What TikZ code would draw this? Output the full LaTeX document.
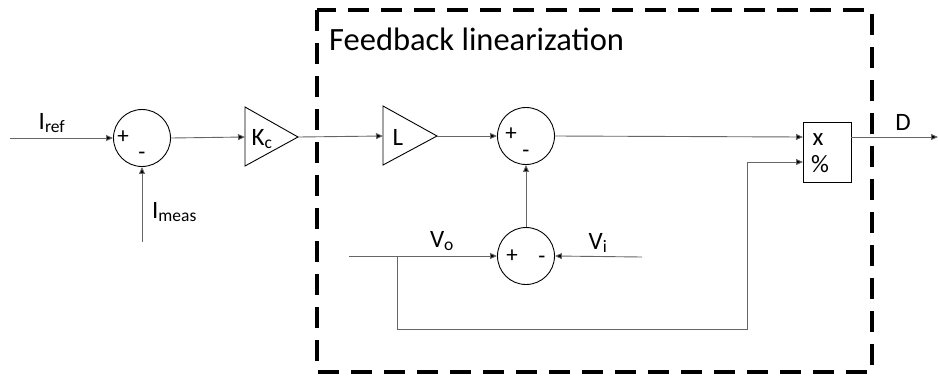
\documentclass[tikz,border=0pt]{standalone}
\usepackage{fontspec}
\setmainfont{Carlito}
\usetikzlibrary{arrows.meta}
\begin{document}
\begin{tikzpicture}[x=1pt,y=-1pt,
  wire/.style={draw=black!60, line width=0.9pt},
  arr/.style={wire, -{Triangle[length=7pt,width=6pt,fill=black]}},
  blk/.style={draw=black, line width=0.9pt},
  sumnode/.style={circle, draw=black, line width=0.9pt, minimum size=57pt, inner sep=0pt},
  lbl/.style={font=\fontsize{25}{28}\selectfont, inner sep=0pt},
  sgn/.style={font=\fontsize{23}{26}\selectfont, inner sep=0pt},
  fbbox/.style={draw=black, line width=3.5pt, dash pattern=on 21pt off 12pt}]
\useasboundingbox (0,0) rectangle (938,376);

% feedback linearization box
\draw[fbbox] (317,10) rectangle (872,372);
\node[font=\fontsize{32.5}{36}\selectfont, anchor=west, inner sep=0pt] (title) at (329,39) {Feedback linearization};

% first summing junction
\node[sumnode] (s1) at (142,138) {};
\node[sgn] (s1p) at (123,137) {+};
\node[sgn] (s1m) at (142,156) {-};
\coordinate (iref) at (10,138);
\draw[arr] (iref) -- (s1.west);
\node[lbl] (ireflbl) at (52,123) {I\textsubscript{ref}};
\coordinate (imeas) at (142,242);
\draw[arr] (imeas) -- (s1.south);
\node[lbl, anchor=west] (imeaslbl) at (152,212) {I\textsubscript{meas}};

% Kc gain
\coordinate (kcin) at (245,137);
\coordinate (kcout) at (298,137);
\draw[blk] (245,107) -- (kcout) -- (245,166) -- cycle;
\node[lbl] (kclbl) at (262,139) {K\textsubscript{c}};
\draw[arr] (s1.east) -- (kcin);

% L gain
\coordinate (lin) at (383,136);
\coordinate (lout) at (437,136);
\draw[blk] (383,106) -- (lout) -- (383,165) -- cycle;
\node[lbl] (llbl) at (398,137) {L};
\draw[arr] (kcout) -- (lin);

% second summing junction
\node[sumnode] (s2) at (526,136) {};
\node[sgn] (s2p) at (511,134) {+};
\node[sgn] (s2m) at (526,154) {-};
\draw[arr] (lout) -- (s2.west);

% multiplier / divider
\node[blk, minimum width=48pt, minimum height=60pt, inner sep=0pt] (mul) at (827,152) {};
\node[lbl] (mulx) at (818,140) {x};
\node[lbl] (muld) at (820,164) {\%};
\coordinate (mulin1) at (803,137);
\coordinate (mulin2) at (803,162);
\coordinate (mulout) at (851,137);
\draw[arr] (s2.east) -- (mulin1);
\coordinate (dout) at (938,137);
\draw[arr] (mulout) -- (dout);
\node[lbl] (dlbl) at (903,122) {D};

% third summing junction
\node[sumnode] (s3) at (526,256) {};
\node[sgn] (s3p) at (512,256) {+};
\node[sgn] (s3m) at (542,260) {-};
\coordinate (vo) at (349,256);
\coordinate (vi) at (642,257);
\coordinate (tap) at (397,256);
\draw[arr] (vo) -- (s3.west);
\draw[arr] (vi) -- (s3.east);
\node[lbl] (volbl) at (442,241) {V\textsubscript{o}};
\node[lbl] (vilbl) at (598,243) {V\textsubscript{i}};
\draw[arr] (s3.north) -- (s2.south);

% feedback path of Vo to divider
\draw[arr] (tap) -- (397,329) -- (747,329) -- (747,162) -- (mulin2);
\end{tikzpicture}
\end{document}
